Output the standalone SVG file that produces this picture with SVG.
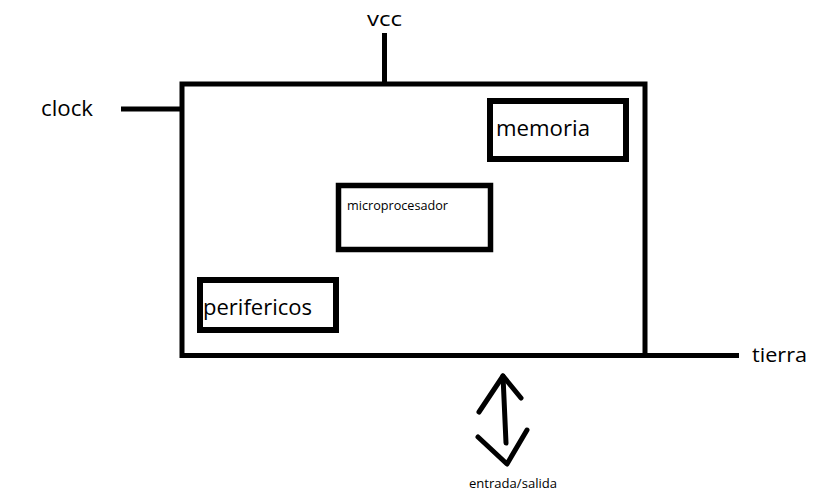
<svg xmlns="http://www.w3.org/2000/svg" width="813" height="500" viewBox="0 0 813 500">
<style>
.box{fill:none;stroke:#000;stroke-width:5}
.ln{fill:none;stroke:#000;stroke-width:5;stroke-linecap:round;stroke-linejoin:round}
.t{font-family:"Open Sans","Noto Sans","Liberation Sans",sans-serif;fill:#000}
</style>
<rect width="813" height="500" fill="#fff"/>
<g id="connectors">
<line class="ln" x1="384.5" y1="33" x2="384.5" y2="84" style="stroke-linecap:butt"/>
<line class="ln" x1="121" y1="109" x2="182" y2="109" style="stroke-linecap:butt"/>
<line class="ln" x1="645" y1="355.5" x2="739" y2="355.5" style="stroke-linecap:butt"/>
<g id="io-arrow">
<line class="ln" x1="503" y1="376" x2="506" y2="443"/>
<polyline class="ln" points="479,412 503,376 521,398"/>
<polyline class="ln" points="478,437 507,464 527,430"/>
</g>
</g>
<g id="chip">
<rect class="box" x="182" y="84" width="463" height="271.5"/>
</g>
<g id="memoria">
<rect class="box" x="490" y="101" width="136" height="58" style="stroke-width:6"/>
<text class="t" x="496" y="136" font-size="21" textLength="94" lengthAdjust="spacingAndGlyphs">memoria</text>
</g>
<g id="microprocesador">
<rect class="box" x="338.5" y="185.5" width="152" height="64" style="stroke-width:5.5"/>
<text class="t" x="347" y="210" font-size="12.5" textLength="101" lengthAdjust="spacingAndGlyphs">microprocesador</text>
</g>
<g id="perifericos">
<rect class="box" x="200" y="280" width="136" height="50" style="stroke-width:6"/>
<text class="t" x="203" y="315" font-size="22" textLength="109" lengthAdjust="spacingAndGlyphs">perifericos</text>
</g>
<g id="labels">
<text class="t" x="367" y="26" font-size="20" textLength="35" lengthAdjust="spacingAndGlyphs">vcc</text>
<text class="t" x="41" y="116" font-size="21" textLength="52" lengthAdjust="spacingAndGlyphs">clock</text>
<text class="t" x="752" y="362" font-size="20" textLength="55" lengthAdjust="spacingAndGlyphs">tierra</text>
<text class="t" x="469" y="488" font-size="12.5" textLength="88" lengthAdjust="spacingAndGlyphs">entrada/salida</text>
</g>
</svg>
